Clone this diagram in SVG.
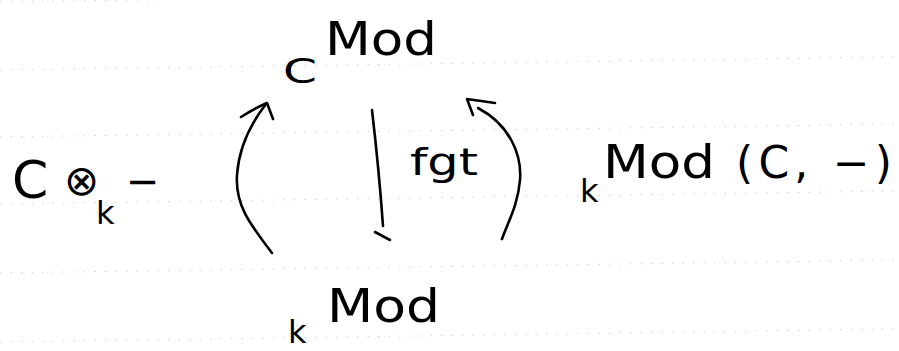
<svg xmlns="http://www.w3.org/2000/svg" width="899" height="351" viewBox="0 0 899 351">
  <style>
    .ink { fill: none; stroke: #000; stroke-width: 2.6; stroke-linecap: round; stroke-linejoin: round; }
    .rule { fill: none; stroke: #d0d0d0; stroke-width: 1; stroke-dasharray: 1.5 9; }
    .t { font-family: "DejaVu Sans", "Liberation Sans", sans-serif; fill: #000; }
  </style>

  <rect width="899" height="351" fill="#fff"/>

  <!-- faint dotted ruling of the paper -->
  <g id="ruling">
    <line class="rule" x1="0" y1="2" x2="899" y2="-11"/>
    <line class="rule" x1="0" y1="70" x2="899" y2="57"/>
    <line class="rule" x1="0" y1="137" x2="899" y2="124"/>
    <line class="rule" x1="0" y1="204" x2="899" y2="191"/>
    <line class="rule" x1="0" y1="273" x2="899" y2="260"/>
    <line class="rule" x1="0" y1="342" x2="899" y2="329"/>
  </g>

  <!-- comodules over C -->
  <g id="node-comod">
    <text class="t" x="283" y="83" font-size="34" textLength="34" lengthAdjust="spacingAndGlyphs">C</text>
    <text class="t" x="325" y="55" font-size="46" textLength="112" lengthAdjust="spacingAndGlyphs">Mod</text>
  </g>

  <!-- k-modules -->
  <g id="node-kmod">
    <text class="t" x="288" y="343" font-size="32">k</text>
    <text class="t" x="327" y="322" font-size="47" textLength="113" lengthAdjust="spacingAndGlyphs">Mod</text>
  </g>

  <!-- left adjoint: cofree functor -->
  <g id="label-left">
    <text class="t" x="12" y="198" font-size="52">C</text>
    <text class="t" x="64" y="195" font-size="42">⊗</text>
    <text class="t" x="96" y="224" font-size="32">k</text>
    <text class="t" x="126" y="195" font-size="40">−</text>
  </g>

  <!-- forgetful functor label -->
  <g id="label-fgt">
    <text class="t" x="410" y="175" font-size="38" textLength="68" lengthAdjust="spacingAndGlyphs">fgt</text>
  </g>

  <!-- right adjoint: hom functor -->
  <g id="label-right">
    <text class="t" x="580" y="202" font-size="32">k</text>
    <text class="t" x="603" y="178" font-size="46" textLength="112" lengthAdjust="spacingAndGlyphs">Mod</text>
    <text class="t" x="736" y="178" font-size="44" textLength="156" lengthAdjust="spacing">(C, −)</text>
  </g>

  <!-- the three functors between the two categories -->
  <g id="connectors">
    <!-- left arc, pointing up -->
    <path class="ink" d="M272,253 C250,224 235,205 237,175 C239,146 252,122 266,104"/>
    <path class="ink" d="M241,117 Q255,108 267,103 L273,119"/>
    <!-- forgetful, pointing down -->
    <path class="ink" d="M372,110 Q379,170 383,226"/>
    <path class="ink" d="M375,232 L390,240"/>
    <!-- right arc, pointing up -->
    <path class="ink" d="M478,108 C510,125 522,155 520,180 C518,205 508,222 502,239"/>
    <path class="ink" d="M495,103 L467,99 L473,115"/>
  </g>
</svg>
